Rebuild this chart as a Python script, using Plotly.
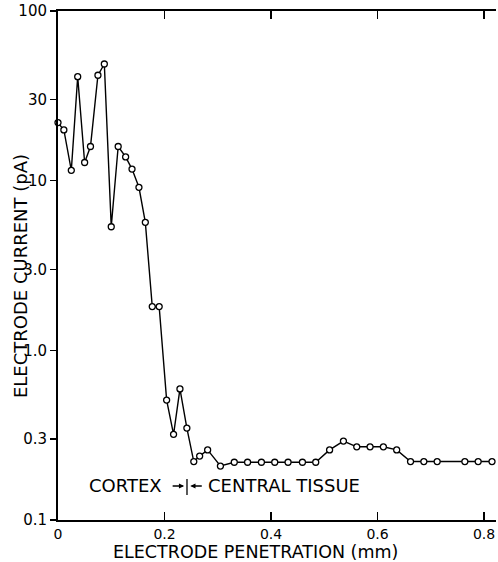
import plotly.graph_objects as go

# Electrode penetration (mm)
penetration_mm = [0.000, 0.011, 0.025, 0.037, 0.050, 0.061, 0.075, 0.087, 0.100, 0.113,
                  0.127, 0.139, 0.152, 0.164, 0.177, 0.190, 0.204, 0.217, 0.229, 0.242,
                  0.255, 0.266, 0.281, 0.305, 0.331, 0.356, 0.382, 0.407, 0.432, 0.459,
                  0.484, 0.510, 0.536, 0.561, 0.586, 0.611, 0.636, 0.662, 0.687, 0.712,
                  0.764, 0.789, 0.815]
# Electrode current (pA)
current_pA = [22.0, 19.9, 11.5, 41.0, 12.8, 15.9, 41.8, 48.7, 5.35, 15.9,
              13.8, 11.7, 9.14, 5.68, 1.81, 1.81, 0.509, 0.320, 0.592, 0.348,
              0.221, 0.238, 0.259, 0.208, 0.219, 0.219, 0.219, 0.219, 0.219, 0.219,
              0.219, 0.259, 0.292, 0.270, 0.270, 0.270, 0.259, 0.221, 0.221, 0.221,
              0.221, 0.221, 0.221]

x_tickvals = [0, 0.2, 0.4, 0.6, 0.8]
x_ticktext = ["0", "0.2", "0.4", "0.6", "0.8"]
y_tickvals = [0.1, 0.3, 1.0, 3.0, 10, 30, 100]
y_ticktext = ["0.1", "0.3", "1.0", "3.0", "10", "30", "100"]

FONT = "DejaVu Sans"
X_RANGE = [0, 0.8225]
Y_RANGE = [-1, 2]
TXT = 18

fig = go.Figure()
fig.add_trace(go.Scatter(
    x=penetration_mm, y=current_pA, mode="lines+markers",
    line=dict(color="black", width=1.4),
    marker=dict(symbol="circle", size=6, color="white",
                line=dict(color="black", width=1.3)),
    showlegend=False, cliponaxis=False, hoverinfo="skip",
))

fig.update_layout(
    width=498, height=562,
    margin=dict(l=58, r=2, t=11, b=42, autoexpand=False),
    paper_bgcolor="white", plot_bgcolor="white",
    font=dict(family=FONT, size=15, color="black"),
    xaxis=dict(range=X_RANGE, tickvals=x_tickvals, ticktext=x_ticktext,
               ticks="inside", ticklen=8, tickwidth=1.5, tickcolor="black",
               showline=True, linecolor="black", linewidth=2, mirror="ticks",
               showgrid=False, zeroline=False, automargin=False,
               tickfont=dict(family=FONT, size=14)),
    yaxis=dict(type="log", range=Y_RANGE, tickvals=y_tickvals, ticktext=y_ticktext,
               ticks="outside", ticklen=6, tickwidth=1.5, tickcolor="black",
               showline=True, linecolor="black", linewidth=2,
               showgrid=False, zeroline=False, automargin=False,
               tickfont=dict(family=FONT, size=15)),
    yaxis2=dict(type="log", range=Y_RANGE, overlaying="y", side="right",
                tickvals=y_tickvals, showticklabels=False, automargin=False,
                ticks="inside", ticklen=4, tickwidth=1.5, tickcolor="black",
                showline=False, showgrid=False, zeroline=False),
)

# axis titles
fig.add_annotation(text="ELECTRODE PENETRATION (mm)", xref="paper", yref="paper",
                   x=0.45, y=-0.0625, showarrow=False, xanchor="center", yanchor="middle",
                   font=dict(size=17.5), borderpad=0)
fig.add_annotation(text="ELECTRODE CURRENT (pA)", xref="paper", yref="paper",
                   x=-0.087, y=0.479, showarrow=False, textangle=-90,
                   xanchor="center", yanchor="middle", font=dict(size=TXT))

# cortex / central tissue boundary label
ty = 0.0668
fig.add_annotation(text="CORTEX", xref="paper", yref="paper", x=0.242, y=ty,
                   showarrow=False, xanchor="right", yanchor="middle", font=dict(size=TXT))
fig.add_annotation(text="CENTRAL TISSUE", xref="paper", yref="paper", x=0.337, y=ty,
                   showarrow=False, xanchor="left", yanchor="middle", font=dict(size=TXT))
fig.add_annotation(text="", xref="paper", yref="paper", x=0.288, y=ty,
                   ax=-13, ay=0, showarrow=True, arrowhead=2, arrowsize=0.8,
                   arrowwidth=1.3, arrowcolor="black")
fig.add_annotation(text="", xref="paper", yref="paper", x=0.302, y=ty,
                   ax=13, ay=0, showarrow=True, arrowhead=2, arrowsize=0.8,
                   arrowwidth=1.3, arrowcolor="black")
fig.add_shape(type="line", xref="paper", yref="paper", x0=0.2945, x1=0.2945,
              y0=0.049, y1=0.0806, line=dict(color="black", width=1.3))

fig.write_html("out.html", config={"displayModeBar": False, "staticPlot": True},
               post_script="document.body.style.margin='0';document.body.style.padding='0';")
